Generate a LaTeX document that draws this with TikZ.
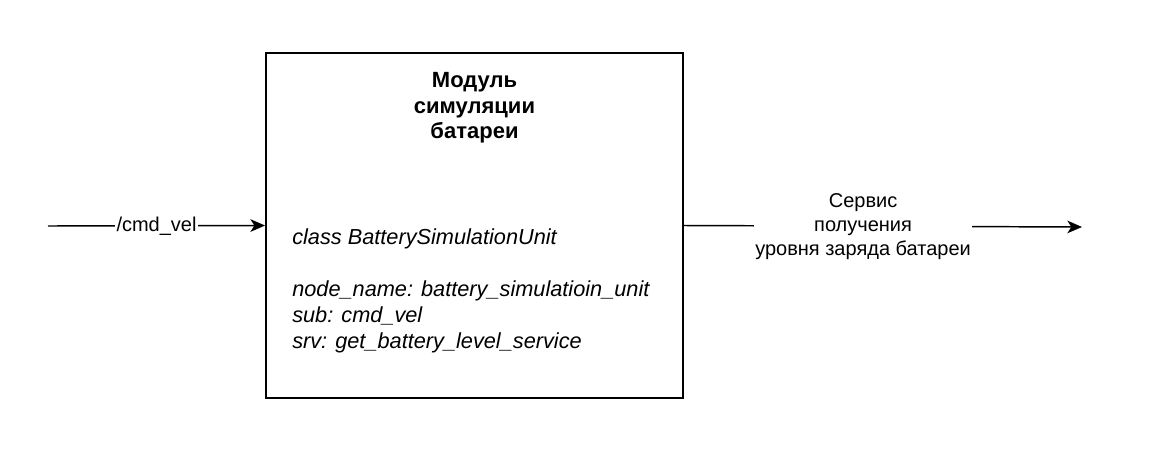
\documentclass[tikz,border=0pt]{standalone}
\usepackage{fontspec}
\setmainfont{Liberation Sans}
\usetikzlibrary{arrows.meta,positioning}

\begin{document}
\begin{tikzpicture}[x=0.75pt, y=-0.75pt, >={Stealth[length=11pt, width=9.5pt, inset=3pt]},
  every node/.style={font=\fontsize{15}{18}\selectfont},
  unitbox/.style={draw, line width=1.4pt, inner sep=0pt, minimum width=312.75pt, minimum height=258.75pt},
  flow/.style={->, line width=1.1pt},
  flowlabel/.style={fill=white, inner xsep=1pt, inner ysep=1pt}]
  \useasboundingbox (0,0) rectangle (1150,454);
  \node[unitbox] (unit) at (474.5,225.5) {};
  \node[align=center, font=\fontsize{16.5}{19.2}\selectfont\bfseries] (unittitle) at (474.5,108)
    {Модуль\\симуляции\\батареи};
  \node[anchor=west, align=left, inner sep=0pt, font=\fontsize{16.3}{19.5}\selectfont\itshape] (unitinfo) at (292,291)
    {class BatterySimulationUnit\\[19.5pt]node\_name: battery\_simulatioin\_unit\\sub: cmd\_vel\\srv: get\_battery\_level\_service};
  % входы и выходы
  \coordinate (cmdsrc) at (48,226);
  \coordinate (srvdst) at (1082,227);
  \draw[flow] (cmdsrc) -- (unit.west) node[midway, flowlabel] {/cmd\_vel};
  \draw[flow] (unit.east) -- (srvdst) node[pos=0.45, flowlabel, align=center]
    {Сервис\\получения\\уровня заряда батареи};
\end{tikzpicture}
\end{document}
